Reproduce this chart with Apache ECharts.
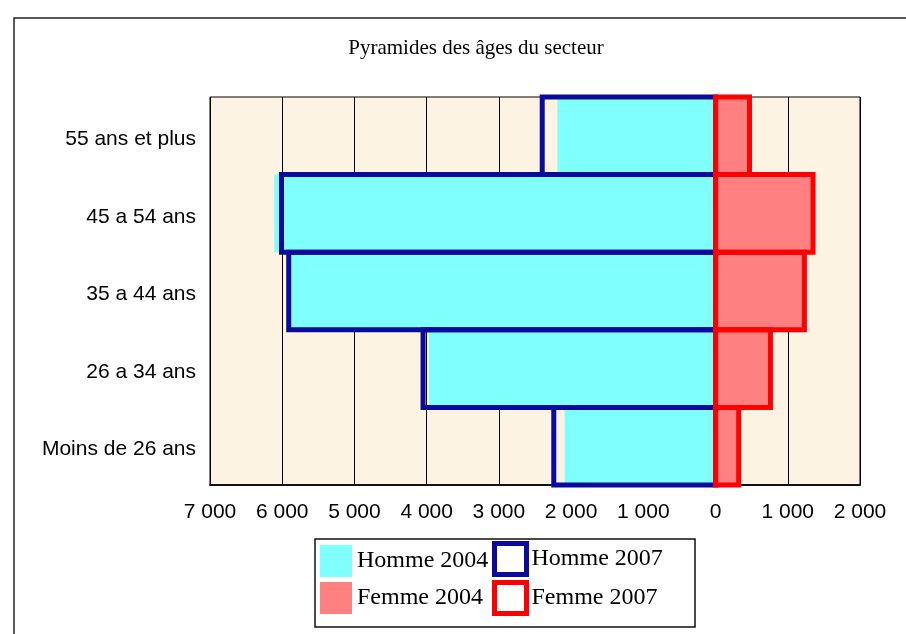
<!DOCTYPE html>
<html>
<head>
<meta charset="utf-8">
<script src="https://cdn.jsdelivr.net/npm/echarts@6/dist/echarts.min.js"></script>
<style>
  html, body { margin: 0; padding: 0; background: #fff; }
  #main { width: 906px; height: 634px; }
</style>
</head>
<body>
<div id="main"></div>
<script>
// tranches d'age, du haut vers le bas
const ages = ['55 ans et plus', '45 a 54 ans', '35 a 44 ans', '26 a 34 ans', 'Moins de 26 ans'];
const homme2004 = [2190, 6110, 5900, 3970, 2090];
const homme2007 = [2400, 6010, 5910, 4050, 2240];
const femme2004 = [470, 1370, 1250, 750, 300];
const femme2007 = [470, 1350, 1230, 760, 320];
const xTicks = { min: -7000, max: 2000, step: 1000 };

const serif = '"Liberation Serif", "DejaVu Serif", serif';
const sans = '"Liberation Sans", Arial, sans-serif';

function milliers(v) {
  return String(Math.abs(v)).replace(/\B(?=(\d{3})+(?!\d))/g, ' ');
}
function neg(arr) { return arr.map(v => -v); }

// contour 2007 : rectangle trace sur toute la hauteur de la tranche, trait centre sur le bord
function contour(name, values, color, z) {
  return {
    name: name,
    type: 'custom',
    z: z,
    data: values.map((v, i) => [v, i]),
    encode: { x: 0, y: 1 },
    itemStyle: { color: '#fff', borderColor: color, borderWidth: 5 },
    renderItem: function (params, api) {
      const end = api.coord([api.value(0), api.value(1)]);
      const start = api.coord([0, api.value(1)]);
      const h = api.size([0, 1])[1];
      return {
        type: 'rect',
        shape: {
          x: Math.min(start[0], end[0]),
          y: end[1] - h / 2,
          width: Math.abs(end[0] - start[0]),
          height: h
        },
        style: { fill: 'none', stroke: color, lineWidth: 5 }
      };
    }
  };
}

const myChart = echarts.init(document.getElementById('main'));

const option = {
  animation: false,
  backgroundColor: '#fff',
  grid: {
    left: 210, right: 46, top: 97, bottom: 149,
    show: true,
    backgroundColor: '#fdf3e3',
    borderColor: '#000',
    borderWidth: 1
  },
  xAxis: {
    type: 'value',
    min: xTicks.min,
    max: xTicks.max,
    interval: xTicks.step,
    axisLine: { show: true, lineStyle: { color: '#111', width: 2 } },
    axisTick: { show: false },
    axisLabel: {
      formatter: milliers,
      color: '#000',
      fontFamily: sans,
      fontSize: 21,
      margin: 17
    },
    splitLine: { show: true, lineStyle: { color: '#000', width: 1 } }
  },
  yAxis: {
    type: 'category',
    data: ages,
    inverse: true,
    axisLine: { show: true, lineStyle: { color: '#000', width: 1 } },
    axisTick: { show: false },
    axisLabel: {
      margin: 14,
      formatter: v => '{t|' + v + '}',
      rich: {
        t: { color: '#000', fontFamily: sans, fontSize: 21, padding: [7, 0, 0, 0] }
      }
    },
    splitLine: { show: false }
  },
  legend: [
    {
      left: 320, top: 545,
      orient: 'vertical',
      padding: 0,
      itemWidth: 32, itemHeight: 32, itemGap: 5,
      selectedMode: false,
      icon: 'rect',
      textStyle: { fontFamily: serif, fontSize: 24, color: '#000' },
      data: ['Homme 2004', 'Femme 2004']
    },
    {
      left: 492, top: 541,
      orient: 'vertical',
      padding: 0,
      itemWidth: 32, itemHeight: 31, itemGap: 3,
      selectedMode: false,
      icon: 'rect',
      textStyle: { fontFamily: serif, fontSize: 24, color: '#000' },
      data: [
        { name: 'Homme 2007', itemStyle: { color: '#fff', borderColor: '#0a0a9e', borderWidth: 5 } },
        { name: 'Femme 2007', itemStyle: { color: '#fff', borderColor: '#ff0000', borderWidth: 5 } }
      ]
    }
  ],
  graphic: [
    {
      type: 'rect', silent: true, z: -10,
      shape: { x: 14, y: 18, width: 920, height: 640 },
      style: { fill: 'none', stroke: '#222', lineWidth: 1.5 }
    },
    {
      type: 'rect', silent: true,
      shape: { x: 315, y: 539, width: 380, height: 88 },
      style: { fill: 'none', stroke: '#111', lineWidth: 1.5 }
    },
    {
      type: 'text', silent: true,
      x: 476, y: 48,
      style: {
        text: 'Pyramides des âges du secteur',
        font: '21px ' + serif,
        fill: '#000',
        align: 'center',
        verticalAlign: 'middle'
      }
    }
  ],
  series: [
    {
      name: 'Homme 2004', type: 'bar',
      data: neg(homme2004),
      barGap: '-100%', barCategoryGap: '0%',
      itemStyle: { color: '#80ffff' },
      z: 2
    },
    {
      name: 'Femme 2004', type: 'bar',
      data: femme2004,
      barGap: '-100%', barCategoryGap: '0%',
      itemStyle: { color: '#ff8080' },
      z: 2
    },
    contour('Homme 2007', neg(homme2007), '#0a0a9e', 3),
    contour('Femme 2007', femme2007, '#ff0000', 4)
  ]
};

myChart.setOption(option);
</script>
</body>
</html>
